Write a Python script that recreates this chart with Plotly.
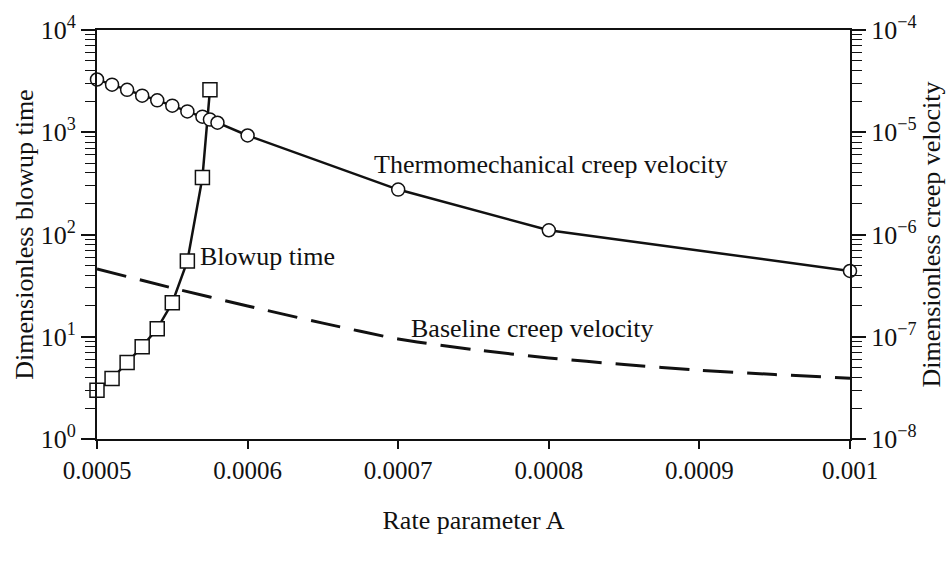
import plotly.graph_objects as go

# Rate parameter values for each series
a_thermo = [0.0005, 0.00051, 0.00052, 0.00053, 0.00054, 0.00055, 0.00056,
            0.00057, 0.000575, 0.00058, 0.0006, 0.0007, 0.0008, 0.001]
v_thermo = [3.28e-5, 2.92e-5, 2.6e-5, 2.28e-5, 2.05e-5, 1.82e-5, 1.6e-5,
            1.42e-5, 1.33e-5, 1.24e-5, 9.3e-6, 2.75e-6, 1.1e-6, 4.4e-7]

a_blowup = [0.0005, 0.00051, 0.00052, 0.00053, 0.00054, 0.00055, 0.00056,
            0.00057, 0.000575]
t_blowup = [3.0, 3.9, 5.6, 8.0, 12.0, 21.5, 55.0, 360.0, 2600.0]

a_base = [0.0005, 0.00055, 0.0006, 0.00065, 0.0007, 0.00075, 0.0008,
          0.00085, 0.0009, 0.00095, 0.001]
v_base = [4.6e-7, 3.0e-7, 2.0e-7, 1.36e-7, 9.5e-8, 7.5e-8, 6.2e-8,
          5.35e-8, 4.7e-8, 4.27e-8, 3.93e-8]

x_ticks = [0.0005, 0.0006, 0.0007, 0.0008, 0.0009, 0.001]
x_tick_text = ["0.0005", "0.0006", "0.0007", "0.0008", "0.0009", "0.001"]
left_ticks = [1, 10, 100, 1000, 10000]
left_tick_text = ["10<sup>0</sup>", "10<sup>1</sup>", "10<sup>2</sup>",
                  "10<sup>3</sup>", "10<sup>4</sup>"]
right_ticks = [1e-8, 1e-7, 1e-6, 1e-5, 1e-4]
right_tick_text = ["10<sup>\u22128</sup>", "10<sup>\u22127</sup>",
                   "10<sup>\u22126</sup>", "10<sup>\u22125</sup>",
                   "10<sup>\u22124</sup>"]

FONT = "Liberation Serif"
BLACK = "#111111"

fig = go.Figure()

fig.add_trace(go.Scatter(
    x=a_base, y=v_base, yaxis="y2", mode="lines",
    line=dict(color=BLACK, width=3, dash="30px,14px", shape="spline", smoothing=0.6),
    showlegend=False, cliponaxis=False,
))
fig.add_trace(go.Scatter(
    x=a_thermo, y=v_thermo, yaxis="y2", mode="lines+markers",
    line=dict(color=BLACK, width=2.5),
    marker=dict(symbol="circle", size=13, color="white",
                line=dict(color=BLACK, width=1.5)),
    showlegend=False, cliponaxis=False,
))
fig.add_trace(go.Scatter(
    x=a_blowup, y=t_blowup, yaxis="y", mode="lines+markers",
    line=dict(color=BLACK, width=2.5),
    marker=dict(symbol="square", size=14, color="white",
                line=dict(color=BLACK, width=1.5)),
    showlegend=False, cliponaxis=False,
))

x_tick_font = dict(family=FONT, size=25, color=BLACK)
y_tick_font = dict(family=FONT, size=26, color=BLACK)
title_font = dict(family=FONT, size=26, color=BLACK)
note_font = dict(family=FONT, size=26, color=BLACK)


def note(text, x, y):
    return dict(text=text, x=x, y=y, xref="paper", yref="paper",
                xanchor="center", yanchor="middle", showarrow=False,
                font=note_font)


fig.update_layout(
    width=951, height=561,
    margin=dict(l=97, r=98, t=24, b=122),
    paper_bgcolor="white", plot_bgcolor="white",
    font=dict(family=FONT, color=BLACK),
    xaxis=dict(
        range=[0.0005, 0.001], tickvals=x_ticks, ticktext=x_tick_text,
        ticks="outside", ticklen=8, tickwidth=1.5, tickcolor=BLACK,
        showline=True, linecolor=BLACK, linewidth=2, mirror=True,
        showgrid=False, zeroline=False, tickfont=x_tick_font,
        title=dict(text="Rate parameter A", font=title_font, standoff=28),
    ),
    yaxis=dict(
        type="log", range=[0, 4], tickvals=left_ticks, ticktext=left_tick_text,
        ticks="outside", ticklen=14, tickwidth=1.5, tickcolor=BLACK,
        minor=dict(ticks="outside", ticklen=10, tickwidth=1.2,
                   tickcolor=BLACK, dtick="D1", showgrid=False),
        showline=True, linecolor=BLACK, linewidth=2,
        showgrid=False, zeroline=False, tickfont=y_tick_font,
        title=dict(text="Dimensionless blowup time", font=title_font, standoff=0),
    ),
    yaxis2=dict(
        type="log", range=[-8, -4], overlaying="y", side="right",
        tickvals=right_ticks, ticktext=right_tick_text,
        ticks="outside", ticklen=14, tickwidth=1.5, tickcolor=BLACK,
        minor=dict(ticks="outside", ticklen=10, tickwidth=1.2,
                   tickcolor=BLACK, dtick="D1", showgrid=False),
        showline=True, linecolor=BLACK, linewidth=2,
        showgrid=False, zeroline=False, tickfont=y_tick_font,
        title=dict(text="Dimensionless creep velocity", font=title_font, standoff=4),
    ),
    annotations=[
        note("Thermomechanical creep velocity", 0.603, 0.672),
        note("Blowup time", 0.226, 0.446),
        note("Baseline creep velocity", 0.578, 0.27),
    ],
)

fig.write_html("out.html")
